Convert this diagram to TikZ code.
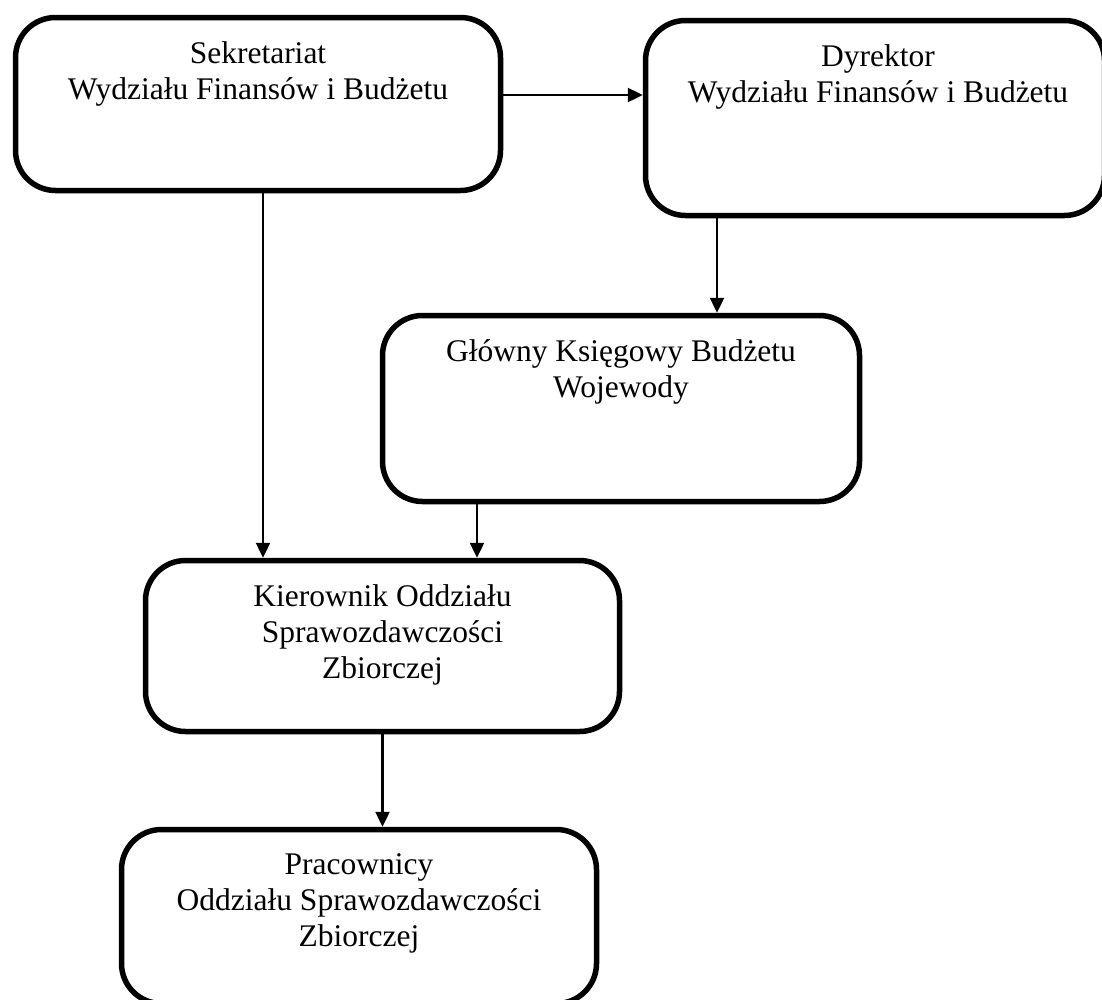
\documentclass[tikz,border=0pt]{standalone}
\usepackage{fontspec}
\setmainfont{Liberation Serif}
\usetikzlibrary{arrows.meta}

\begin{document}
\begin{tikzpicture}[x=1pt,y=-1pt,
  box/.style={draw, line width=5.5pt, rounded corners=40pt, inner sep=0pt},
  boxtext/.style={anchor=north, inner sep=0pt, yshift=-27pt, align=center,
    font=\fontsize{31.5}{36}\selectfont},
  arr/.style={line width=2.4pt, -{Triangle[length=15pt,width=14pt]}}]

  \useasboundingbox (0,0) rectangle (1102,999);

  % boxes (outer edges give the sizes)
  \node[box, minimum width=485pt, minimum height=173pt,
        label={[boxtext]north:{Sekretariat\\Wydziału Finansów i Budżetu}}]
        (sekr) at (258,104) {};
  \node[box, minimum width=459pt, minimum height=195pt,
        label={[boxtext, xshift=3pt]north:{Dyrektor\\Wydziału Finansów i Budżetu}}]
        (dyr) at (875,118) {};
  \node[box, minimum width=477pt, minimum height=186pt,
        label={[boxtext]north:{Główny Księgowy Budżetu\\Wojewody}}]
        (gkb) at (621,408.5) {};
  \node[box, minimum width=474pt, minimum height=171pt,
        label={[boxtext]north:{Kierownik Oddziału\\Sprawozdawczości\\Zbiorczej}}]
        (kier) at (382.5,646) {};
  \node[box, minimum width=475pt, minimum height=174pt,
        label={[boxtext]north:{Pracownicy\\Oddziału Sprawozdawczości\\Zbiorczej}}]
        (prac) at (359,916.5) {};

  % connectors
  \draw[arr] ([yshift=9pt]sekr.east) -- ([yshift=9pt]sekr.east -| dyr.west);
  \draw[arr] ([xshift=5pt]sekr.south) -- ([xshift=5pt]sekr.south |- kier.north);
  \draw[arr] ([xshift=-158pt]dyr.south) -- ([xshift=-158pt]dyr.south |- gkb.north);
  \draw[arr] ([xshift=-144pt]gkb.south) -- ([xshift=-144pt]gkb.south |- kier.north);
  \draw[arr] (kier.south) -- (kier.south |- prac.north);
\end{tikzpicture}
\end{document}
